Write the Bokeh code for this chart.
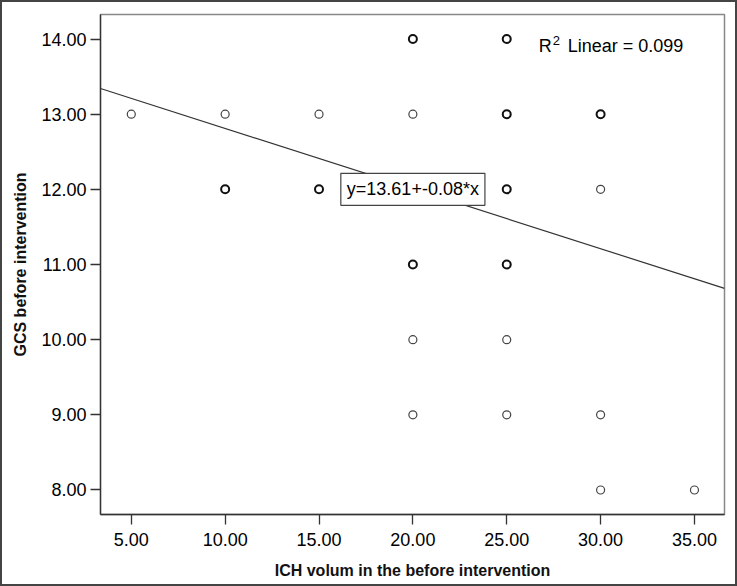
from bokeh.plotting import figure
from bokeh.models import FixedTicker, PrintfTickFormatter, Label, ColumnDataSource, Range1d
from bokeh.embed import file_html
from bokeh.resources import INLINE
from collections import Counter

# Data (duplicates are points drawn on top of each other)
ich_volume = [5, 10, 10, 10, 15, 15, 15,
              20, 20, 20, 20, 20, 20, 20, 20,
              25, 25, 25, 25, 25, 25, 25, 25, 25, 25,
              30, 30, 30, 30, 30, 35]
gcs_before = [13, 13, 12, 12, 13, 12, 12,
              14, 14, 13, 12, 11, 11, 10, 9,
              14, 14, 13, 13, 12, 12, 11, 11, 10, 9,
              13, 13, 12, 9, 8, 8]

fit_intercept = 13.61
fit_slope = -0.08
r_squared = 0.099

x_ticks = [5, 10, 15, 20, 25, 30, 35]
y_ticks = [8, 9, 10, 11, 12, 13, 14]

x_range = (3.36, 36.6)
y_range = (7.674, 14.326)

FONT = "Liberation Sans"

p = figure(width=737, height=586, output_backend="svg", toolbar_location=None,
           x_range=Range1d(*x_range), y_range=Range1d(*y_range),
           min_border_left=98, min_border_right=15, min_border_top=12, min_border_bottom=74)

p.styles = {"border": "2px solid #444444", "box-sizing": "border-box"}
p.background_fill_color = "white"
p.border_fill_color = "white"
p.outline_line_color = "#888888"
p.outline_line_width = 1.5
p.xgrid.visible = False
p.ygrid.visible = False

for ax, ticks in ((p.xaxis[0], x_ticks), (p.yaxis[0], y_ticks)):
    ax.ticker = FixedTicker(ticks=ticks)
    ax.formatter = PrintfTickFormatter(format="%.2f")
    ax.major_tick_out = 10
    ax.major_tick_in = 0
    ax.minor_tick_out = 0
    ax.minor_tick_in = 0
    ax.axis_line_color = "#333333"
    ax.axis_line_width = 1.3
    ax.major_tick_line_color = "#333333"
    ax.major_tick_line_width = 1.3
    ax.major_label_text_font = FONT
    ax.major_label_text_font_size = "18px"
    ax.major_label_text_color = "#000000"
    ax.axis_label_text_font = FONT
    ax.axis_label_text_font_size = "16px"
    ax.axis_label_text_font_style = "bold"
    ax.axis_label_text_color = "#111111"

p.xaxis.axis_label = "ICH volum in the before intervention"
p.yaxis.axis_label = "GCS before intervention"
p.xaxis.major_label_standoff = 8
p.yaxis.major_label_standoff = 4
p.xaxis.axis_label_standoff = 13
p.yaxis.axis_label_standoff = 9

# regression line across the visible x range
lx = [x_range[0], x_range[1]]
ly = [fit_intercept + fit_slope * v for v in lx]
p.line(lx, ly, line_color="#333333", line_width=1.2)

# points; overlapping points look bolder
counts = Counter(zip(ich_volume, gcs_before))
ux = [k[0] for k in counts]
uy = [k[1] for k in counts]
lw = [1.2 if counts[k] == 1 else 2.0 for k in counts]
lc = ["#444444" if counts[k] == 1 else "#111111" for k in counts]
src = ColumnDataSource(dict(x=ux, y=uy, lw=lw, lc=lc))
p.scatter("x", "y", source=src, marker="circle", size=8, fill_color="white",
          line_color="lc", line_width="lw")

# R^2 annotation: "R", superscript "2", then the rest
r2_x, r2_y = 26.7, 13.91
common = dict(text_font=FONT, text_color="#000000", text_baseline="middle", text_align="left")
p.add_layout(Label(x=r2_x, y=r2_y, text="R", text_font_size="18px", **common))
p.add_layout(Label(x=r2_x, y=r2_y, x_offset=14, y_offset=5, text="2", text_font_size="13px", **common))
p.add_layout(Label(x=r2_x, y=r2_y, x_offset=29, text=f"Linear = {r_squared}",
                   text_font_size="18px", **common))

p.add_layout(Label(x=20, y=12,
                   text=f"y={fit_intercept}+{fit_slope}*x",
                   text_font=FONT, text_font_size="18px", text_color="#000000",
                   text_align="center", text_baseline="middle",
                   border_line_color="#444444", border_line_width=1.2,
                   background_fill_color="white", background_fill_alpha=1.0,
                   padding=6))

open("out.html", "w").write(file_html(p, INLINE))
